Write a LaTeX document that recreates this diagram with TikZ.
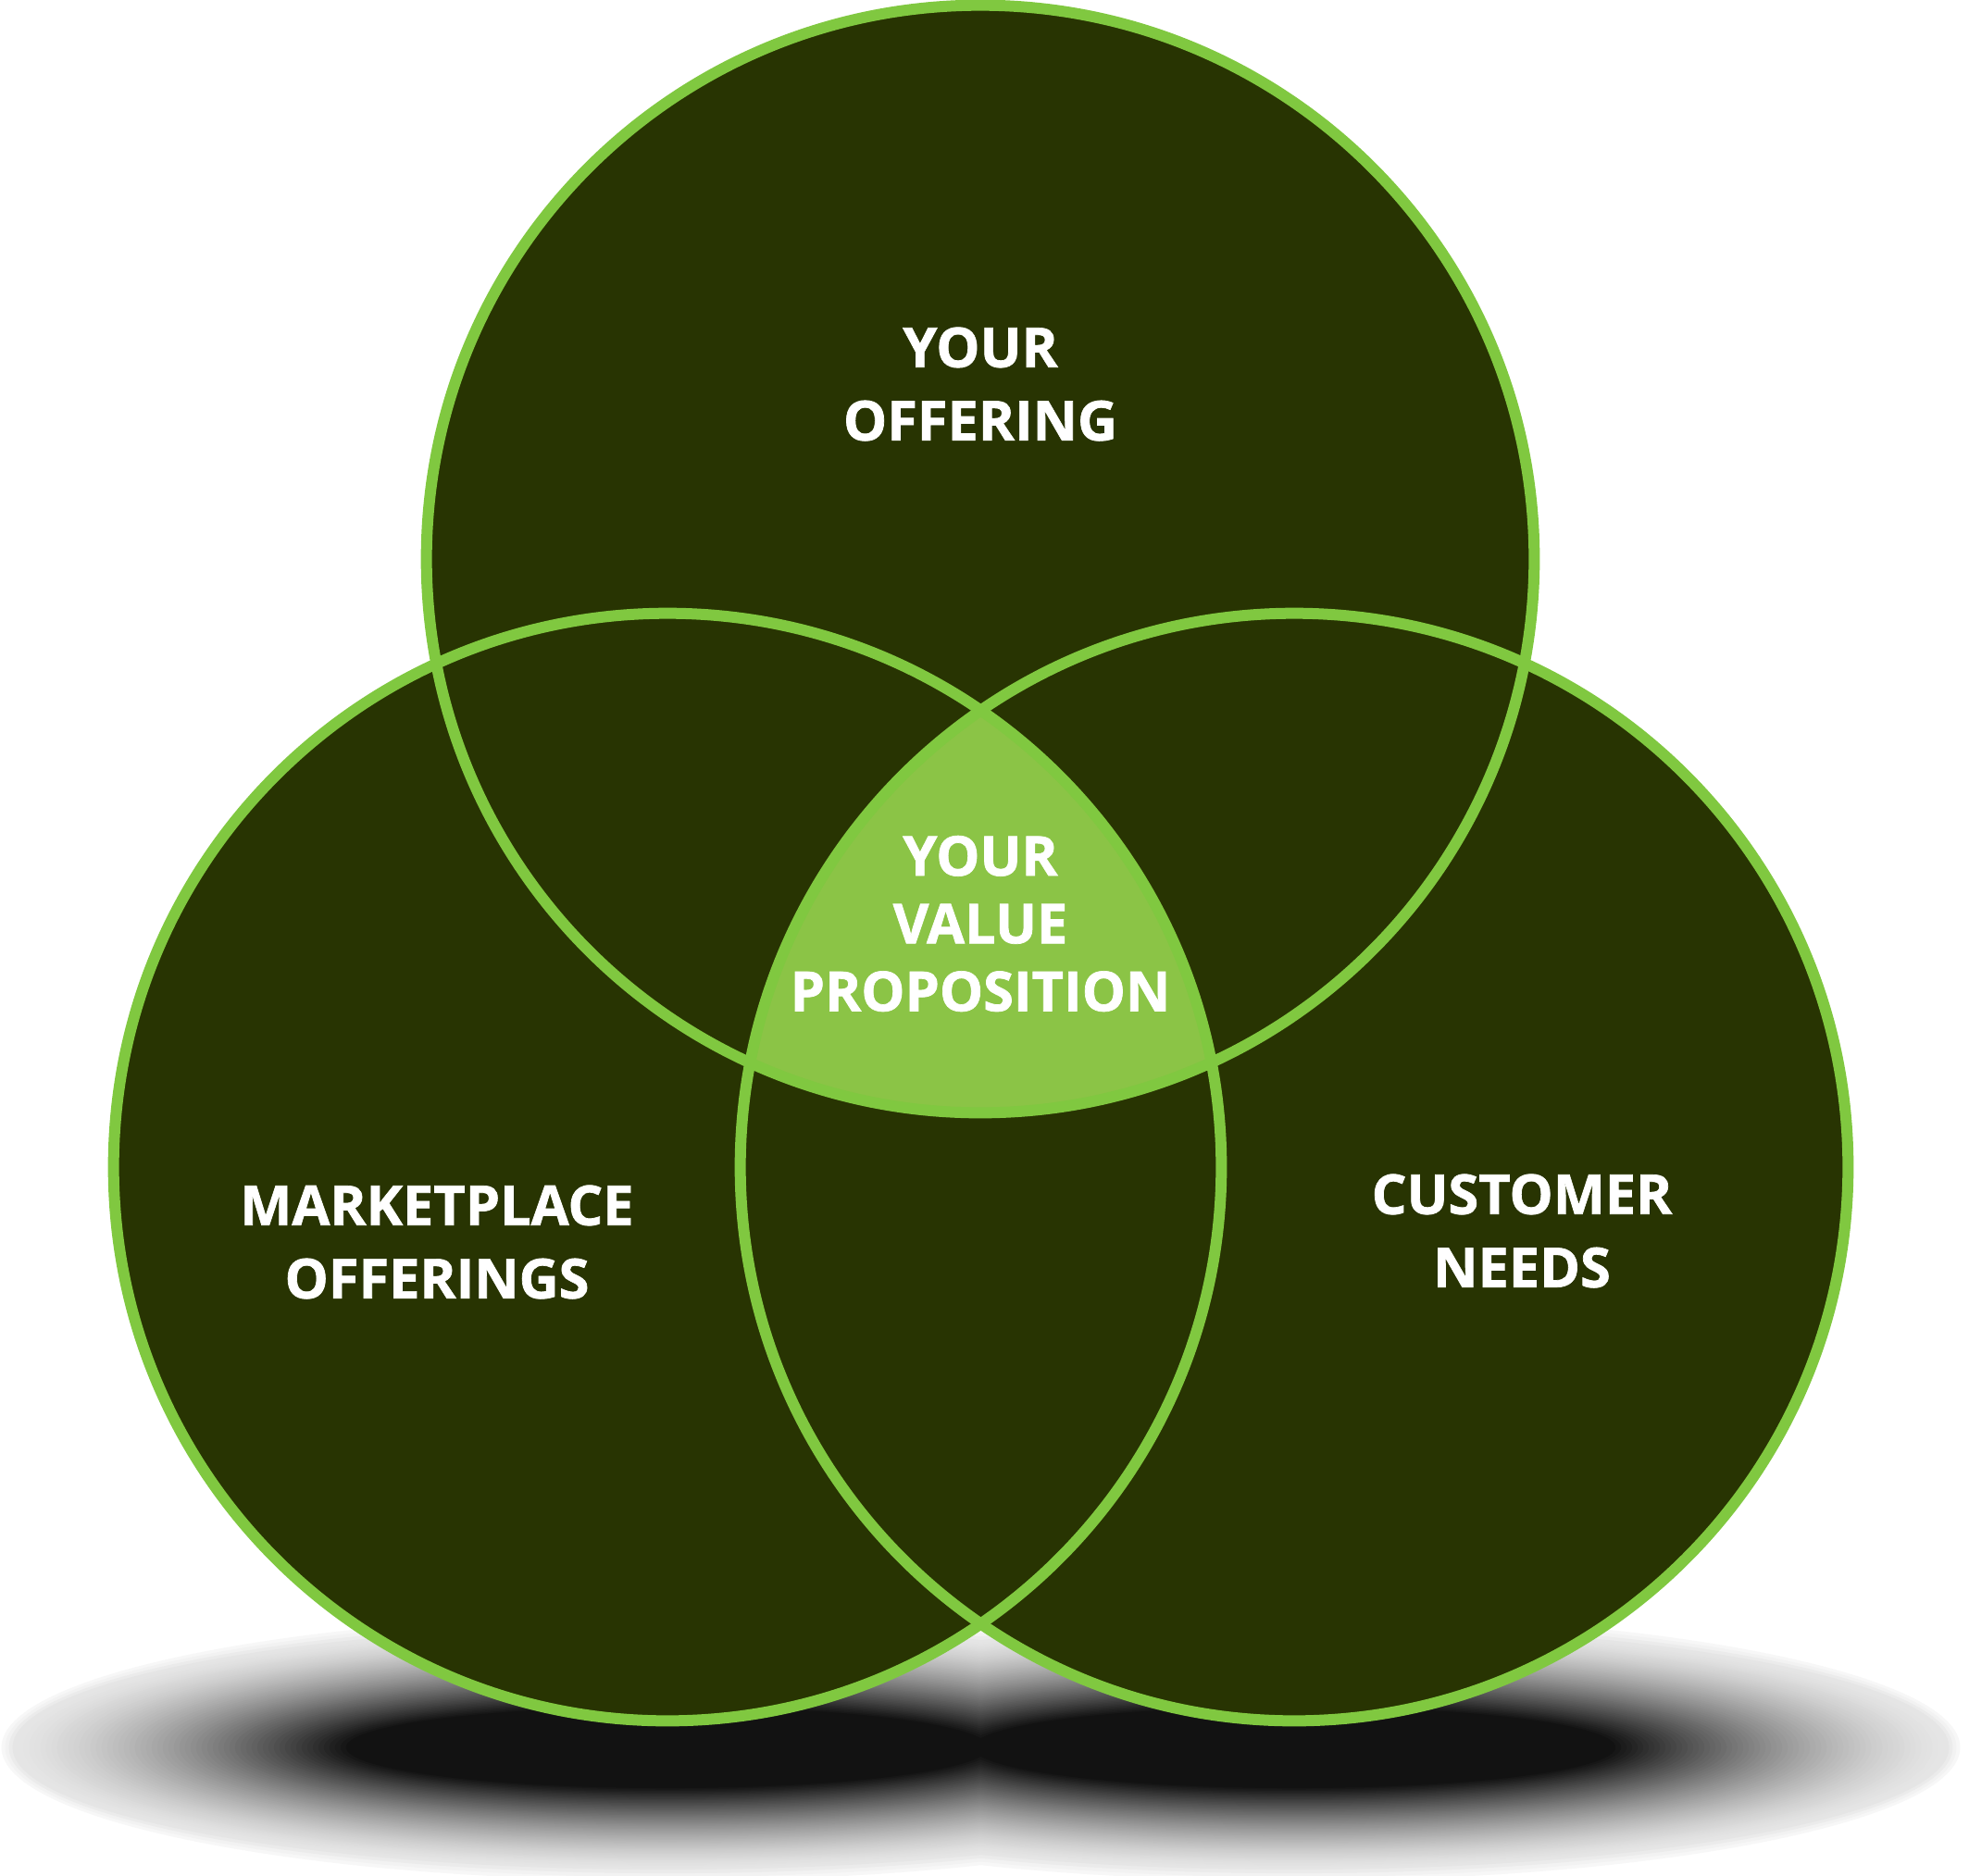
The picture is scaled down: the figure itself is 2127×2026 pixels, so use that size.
\documentclass[tikz,border=0pt]{standalone}
\usepackage{fontspec}
\setmainfont{Open Sans}[BoldFeatures={FakeBold=1.2}]
\definecolor{darkfill}{RGB}{40,52,2}
\definecolor{ringgreen}{RGB}{128,200,64}
\definecolor{corefill}{RGB}{139,196,70}
\begin{document}
\begin{tikzpicture}[x=0.01cm,y=-0.01cm,
  ring/.style={draw=ringgreen,line width=0.12cm},
  disc/.style={fill=darkfill},
  lbl/.style={text=white,font=\fontsize{16.9}{22.5}\selectfont\bfseries,align=center,inner sep=0pt},
  corelbl/.style={lbl,font=\fontsize{16.9}{20.8}\selectfont\bfseries}]
\fill[white] (0,0) rectangle (2127,2026);
\useasboundingbox (0,0) rectangle (2127,2026);
% centres
\coordinate (ctop) at (1059,604);
\coordinate (cleft) at (721,1261);
\coordinate (cright) at (1398,1261);
% shadow: soft outer edge
\foreach \d/\lv in {0.12/3,0.08/5,0.04/8}{
  \fill[black!\lv] (721,1888) ellipse[x radius={7.07cm+\d cm}, y radius={1.32cm+\d cm}]
                   (1398,1888) ellipse[x radius={7.07cm+\d cm}, y radius={1.32cm+\d cm}];
}
% shadow: body
\foreach \i in {0,...,60}{
  \pgfmathsetmacro\t{\i/60}
  \pgfmathsetmacro\rx{7.07-3.6*\t}
  \pgfmathsetmacro\ry{1.32-0.88*\t}
  \pgfmathsetmacro\lv{10+83*(\t^1.4)}
  \fill[black!\lv] (721,1888) ellipse[x radius=\rx cm, y radius=\ry cm]
                   (1398,1888) ellipse[x radius=\rx cm, y radius=\ry cm];
}
% discs
\fill[disc] (ctop) circle[radius=5.98cm];
\fill[disc] (cleft) circle[radius=5.98cm];
\fill[disc] (cright) circle[radius=5.98cm];
% centre intersection
\begin{scope}
  \clip (ctop) circle[radius=5.98cm];
  \clip (cleft) circle[radius=5.98cm];
  \fill[corefill] (cright) circle[radius=5.98cm];
\end{scope}
% rings
\draw[ring] (ctop) circle[radius=5.98cm];
\draw[ring] (cleft) circle[radius=5.98cm];
\draw[ring] (cright) circle[radius=5.98cm];
% labels
\node[lbl] (offer) at (1059,415) {YOUR\\OFFERING};
\node[corelbl] (vp) at (1059,998) {YOUR\\VALUE\\PROPOSITION};
\node[lbl] (market) at (472,1342) {MARKETPLACE\\OFFERINGS};
\node[lbl] (cust) at (1644,1330) {CUSTOMER\\NEEDS};
\end{tikzpicture}
\end{document}
